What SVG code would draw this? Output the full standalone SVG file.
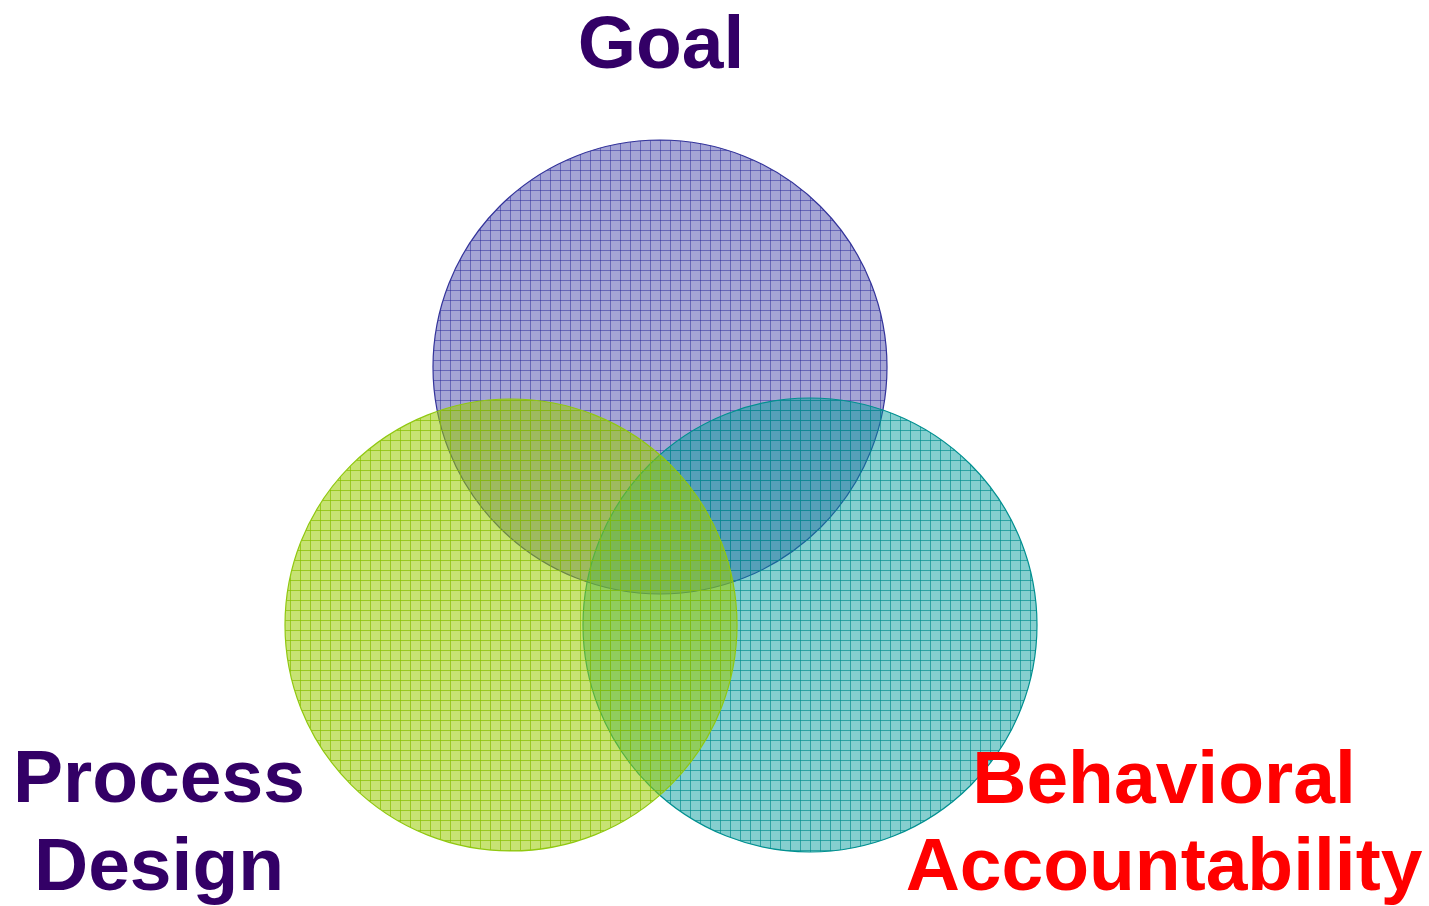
<svg xmlns="http://www.w3.org/2000/svg" width="1429" height="906" viewBox="0 0 1429 906">
  <style>
    .lbl { font-family: "Liberation Sans", Arial, sans-serif; font-weight: bold; font-size: 75px; text-anchor: middle; }
    .purple { fill: #330066; }
    .red { fill: #ff0000; }
    .ring { stroke-width: 1.2; }
  </style>
  <defs>
    <!-- 10px grid tiles: tinted base with a darker 1px rule on two edges -->
    <pattern id="gridBlue" width="10" height="10" patternUnits="userSpaceOnUse">
      <rect width="10" height="10" fill="#3a3aa4" fill-opacity="0.46"/>
      <path d="M0 0.5H10M0.5 0V10" stroke="#2a2a9a" stroke-opacity="0.5" stroke-width="1"/>
    </pattern>
    <pattern id="gridGreen" width="10" height="10" patternUnits="userSpaceOnUse">
      <rect width="10" height="10" fill="#99cc00" fill-opacity="0.55"/>
      <path d="M0 0.5H10M0.5 0V10" stroke="#88c000" stroke-opacity="0.7" stroke-width="1"/>
    </pattern>
    <pattern id="gridTeal" width="10" height="10" patternUnits="userSpaceOnUse">
      <rect width="10" height="10" fill="#009a9a" fill-opacity="0.48"/>
      <path d="M0 0.5H10M0.5 0V10" stroke="#008c8c" stroke-opacity="0.65" stroke-width="1"/>
    </pattern>
  </defs>

  <rect width="1429" height="906" fill="#ffffff"/>

  <g id="goal">
    <circle class="ring" cx="660" cy="367" r="227" fill="url(#gridBlue)" stroke="#33339a"/>
    <text class="lbl purple" x="661" y="68">Goal</text>
  </g>

  <g id="behavioral-accountability">
    <circle class="ring" cx="810" cy="625" r="227" fill="url(#gridTeal)" stroke="#009090"/>
    <text class="lbl red" x="1164" y="803">Behavioral</text>
    <text class="lbl red" x="1164" y="890">Accountability</text>
  </g>

  <g id="process-design">
    <circle class="ring" cx="511" cy="625" r="226" fill="url(#gridGreen)" stroke="#90c810"/>
    <text class="lbl purple" x="159" y="802">Process</text>
    <text class="lbl purple" x="159" y="890">Design</text>
  </g>

  <g id="connectors"></g>
</svg>
